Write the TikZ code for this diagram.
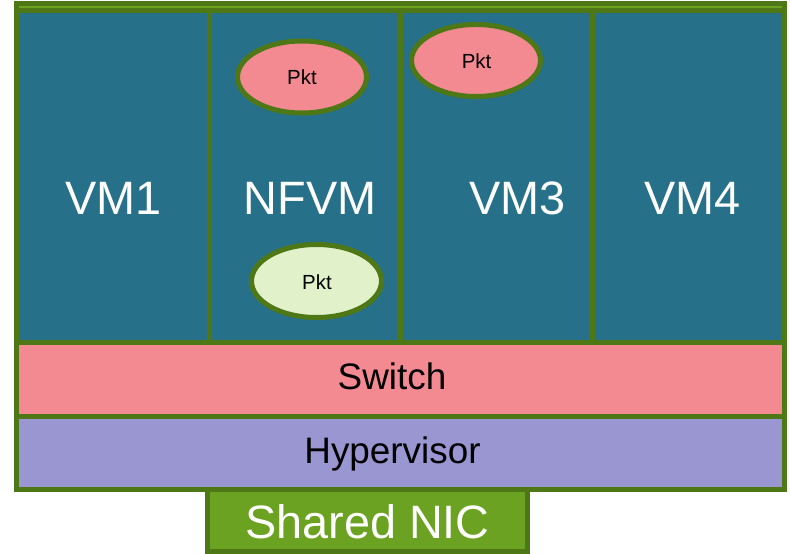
\documentclass[tikz,border=0pt]{standalone}
\usepackage{fontspec}
\setmainfont{Liberation Sans}
\usetikzlibrary{shapes.geometric}

\definecolor{vmteal}{HTML}{277089}
\definecolor{edgegreen}{HTML}{4E7715}
\definecolor{nicgreen}{HTML}{6BA222}
\definecolor{switchpink}{HTML}{F38A92}
\definecolor{hvpurple}{HTML}{9A96D2}
\definecolor{pktlight}{HTML}{E1F2CB}

\tikzset{
  layerbox/.style={draw=edgegreen, line width=5bp, rectangle, inner sep=0pt, outer sep=0pt},
  vmbox/.style={layerbox, fill=vmteal, minimum width=192bp, minimum height=332bp},
  bigtext/.style={font=\fontsize{47}{50}\selectfont, text=white, anchor=base, inner sep=0pt},
  midtext/.style={font=\fontsize{37}{40}\selectfont, text=black, anchor=base, inner sep=0pt},
  pkt/.style={ellipse, draw=edgegreen, line width=5bp, minimum width=129bp, minimum height=72bp, inner sep=0pt},
  pkttext/.style={font=\fontsize{20.5}{22}\selectfont, text=black, anchor=base, inner sep=0pt}
}

\begin{document}
\begin{tikzpicture}[x=1bp, y=-1bp]
\useasboundingbox (0,0) rectangle (790,554);

% outer frame of the host
\draw[edgegreen, line width=5bp] (16.5,4) rectangle (784.5,489.5);

% virtual machines
\node[vmbox, minimum width=192.5bp] (vm1) at (112.75,176.5) {};
\node[vmbox, minimum width=191.5bp] (nfvm) at (304.75,176.5) {};
\node[vmbox, minimum width=192bp] (vm3) at (496.5,176.5) {};
\node[vmbox, minimum width=192bp] (vm4) at (688.5,176.5) {};
\draw[nicgreen, line width=1.3bp] (19,7) -- (782,7);

\node[bigtext] (vm1t) at (113.5,215) {VM1};
\node[bigtext] (nfvmt) at (310,215) {NFVM};
\node[bigtext] (vm3t) at (517.5,215) {VM3};
\node[bigtext] (vm4t) at (692.5,215) {VM4};

% switch and hypervisor layers
\node[layerbox, fill=switchpink, minimum width=768bp, minimum height=73.5bp] (switch) at (400.5,379.25) {};
\node[layerbox, fill=hvpurple, minimum width=768bp, minimum height=73.5bp] (hyper) at (400.5,452.75) {};
\node[midtext] (switcht) at (392,389) {Switch};
\node[midtext] (hypert) at (392.5,463) {Hypervisor};

% shared NIC
\node[layerbox, fill=nicgreen, minimum width=319.5bp, minimum height=62bp] (nic) at (367.25,520.5) {};
\node[bigtext] (nict) at (367.5,538) {Shared NIC};

% packets
\node[pkt, fill=switchpink] (pkt1) at (302,77) {};
\node[pkt, fill=switchpink] (pkt2) at (476,60.5) {};
\node[pkt, fill=pktlight, minimum width=130bp, minimum height=73bp] (pkt3) at (316.5,281) {};
\node[pkttext] at (302,85) {Pkt};
\node[pkttext] at (476.5,68.5) {Pkt};
\node[pkttext] at (317,290) {Pkt};
\end{tikzpicture}
\end{document}
